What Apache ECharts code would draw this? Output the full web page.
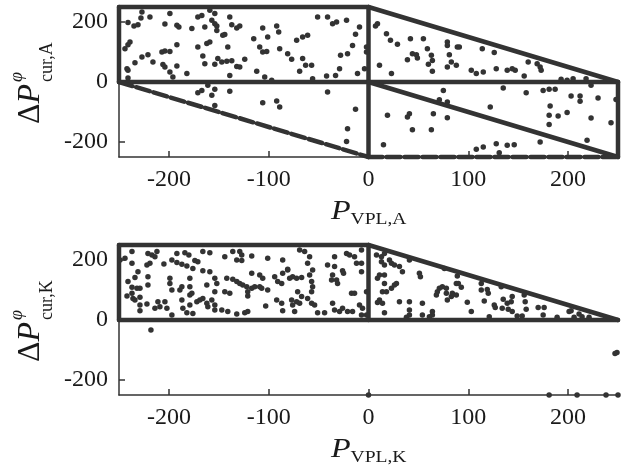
<!DOCTYPE html>
<html>
<head>
<meta charset="utf-8">
<script src="https://cdn.jsdelivr.net/npm/echarts@6/dist/echarts.min.js"></script>
<style>html,body{margin:0;padding:0;background:#fff}#c{width:630px;height:470px}</style>
</head>
<body>
<div id="c"></div>
<script>
// ---- tick values ----
const xTicks = [-200, -100, 0, 100, 200];
const yTicks = [-200, 0, 200];

// ---- dense point chains (drawn as segments) : panel A ----
const solidEdgesA = [
  [[-250, 250], [0, 250]],
  [[-250, 0], [-250, 250]],
  [[-250, 0], [250, 0]],
  [[0, -250], [0, 250]],
  [[250, -250], [250, 0]],
  [[0, 250], [250, 0]],
  [[0, 0], [250, -250]]
];
const dottedEdgesA = [
  [[-250, 0], [0, -250]],
  [[0, -250], [250, -250]]
];
// ---- dense point chains : panel K ----
const solidEdgesK = [
  [[-250, 250], [0, 250]],
  [[-250, 0], [-250, 250]],
  [[-250, 0], [250, 0]],
  [[0, 0], [0, 250]],
  [[0, 250], [250, 0]]
];

// ---- scattered points : panel A ----
const pointsA = [
  [-227,233],[-219,217],[-228,213],[-231,191],[-235,187],[-241,198],[-204,193],[-199,228],[-192,189],[-190,183],
  [-177,178],[-171,217],[-167,222],[-159,239],[-154,228],[-157,206],[-154,194],[-152,187],[-139,217],[-137,191],
  [-146,156],[-144,158],[-152,172],[-164,183],[-132,180],[-129,187],[-115,144],[-106,180],[-101,150],[-92,187],
  [-90,167],[-109,117],[-106,100],[-102,102],[-89,111],[-81,94],[-239,133],[-241,124],[-244,111],[-192,124],
  [-199,102],[-204,103],[-207,100],[-227,83],[-221,91],[-216,67],[-234,64],[-206,58],[-204,50],[-192,53],
  [-199,33],[-196,17],[-182,28],[-171,117],[-162,128],[-159,133],[-166,87],[-164,61],[-154,59],[-151,78],
  [-147,67],[-142,69],[-137,71],[-141,117],[-132,52],[-129,50],[-124,76],[-139,22],[-112,36],[-104,17],
  [-241,39],[-242,44],[-97,6],[-241,13],
  [-171,-36],[-167,-28],[-161,-11],[-154,-24],[-157,-44],[-139,-31],[-154,-78],[-106,-69],[-92,-63],[-89,-83],
  [-51,217],[-41,217],[-36,194],[-32,200],[-22,206],[-9,183],[-13,159],[-16,122],[-21,94],[-28,89],
  [-2,117],[-2,100],[-4,44],[-11,28],[-29,44],[-33,22],[-42,20],[-56,11],[-69,36],[-63,56],
  [-57,56],[-66,78],[-77,76],[-72,139],[-66,150],[-61,156],
  [-41,-33],[-13,-91],[-21,-156],[-22,-198],
  [9,194],[7,187],[18,161],[22,139],[29,126],[42,144],[55,144],[59,111],[63,89],[64,72],
  [60,59],[64,36],[79,133],[79,122],[81,91],[83,67],[79,50],[89,117],[44,94],[48,91],
  [49,80],[39,74],[11,56],[23,28],
  [19,-111],[41,-106],[39,-117],[44,-159],[63,-159],[65,-106],[79,-119],[15,-209],[75,-28],[71,-59],[79,-67],
  [91,117],[88,56],[114,111],[126,98],[103,39],[108,28],[115,33],[128,44],[139,39],[144,44],
  [147,39],[156,20],[160,67],[169,61],[172,50],[173,39],[193,9],[199,6],[205,11],[218,11],
  [135,-20],[158,-36],[175,-28],[181,-24],[187,-24],[203,-47],[212,-47],[212,-64],[230,-53],[248,-58],
  [223,-11],[182,-80],[181,-111],[181,-142],[190,-113],[199,-102],[223,-120],[243,-136],[219,-194],[172,-200],
  [122,-83],[128,-206],[139,-211],[146,-209],[115,-217],[108,-224],[131,-236]
];

// ---- scattered points : panel K ----
const pointsK = [
  [-237,228],[-221,222],[-217,217],[-214,211],[-212,228],[-219,189],[-222,183],[-205,187],[-192,222],[-184,224],
  [-180,217],[-166,228],[-159,224],[-174,198],[-171,194],[-197,200],[-192,192],[-187,186],[-182,180],[-176,172],
  [-166,164],[-159,161],[-237,189],[-231,161],[-234,142],[-241,128],[-237,109],[-232,106],[-229,106],[-242,80],
  [-237,89],[-236,72],[-234,67],[-229,76],[-229,50],[-229,31],[-222,53],[-221,144],[-221,117],[-214,39],
  [-211,61],[-209,44],[-204,61],[-202,39],[-197,17],[-199,139],[-199,122],[-197,100],[-187,111],[-189,100],
  [-179,139],[-179,111],[-179,83],[-177,89],[-187,67],[-179,50],[-176,22],[-182,24],[-186,39],[-172,61],
  [-169,67],[-166,72],[-162,56],[-157,67],[-154,50],[-161,44],[-154,33],[-147,33],[-141,28],[-132,20],
  [-124,24],[-121,28],[-154,139],[-152,122],[-154,94],[-144,94],[-139,89],[-162,117],[-142,139],[-136,136],
  [-132,128],[-129,122],[-126,117],[-122,111],[-117,106],[-114,111],[-121,94],[-121,80],[-117,156],[-109,150],
  [-106,139],[-109,111],[-107,106],[-101,100],[-94,144],[-91,128],[-86,156],[-87,122],[-92,67],[-87,56],
  [-86,31],[-103,47],[-136,228],[-129,228],[-127,217],[-132,200],[-127,198],[-144,211],[-117,213],[-101,206],
  [-86,200],[-81,167],[-244,206],[-249,200],
  [-69,233],[-64,228],[-59,211],[-61,189],[-56,167],[-41,183],[-34,211],[-34,178],[-22,222],[-19,217],
  [-14,211],[-12,189],[-7,233],[-7,189],[-7,161],[-26,164],[-25,156],[-36,150],[-37,133],[-32,133],
  [-31,122],[-76,144],[-79,139],[-72,139],[-67,142],[-59,150],[-81,169],[-57,128],[-56,111],[-57,94],
  [-61,72],[-57,56],[-54,50],[-71,94],[-67,78],[-77,67],[-72,61],[-69,56],[-76,50],[-74,28],
  [-51,24],[-44,24],[-36,56],[-34,33],[-29,28],[-26,39],[-21,28],[-16,28],[-17,89],[-14,89],
  [-9,50],[-6,39],[-7,17],[-2,94],[-2,17],
  [8,217],[13,211],[16,222],[13,194],[16,183],[21,200],[23,189],[26,183],[31,178],[41,200],
  [51,156],[52,144],[34,161],[9,139],[11,150],[16,150],[16,122],[26,117],[28,122],[23,106],
  [14,94],[18,94],[11,67],[9,58],[14,56],[16,24],[31,61],[41,61],[41,33],[54,56],
  [64,28],[64,17],[54,17],[68,83],[69,94],[71,106],[74,111],[78,106],[78,89],[79,67],
  [83,78],[84,89],[88,122],[76,172],[41,17],[38,9],[61,11],
  [89,147],[90,122],[93,109],[88,83],[99,59],[103,28],[113,122],[113,100],[119,102],[120,89],
  [116,63],[121,11],[126,50],[127,42],[133,111],[135,69],[134,39],[139,56],[140,36],[144,78],
  [143,61],[144,28],[149,13],[154,13],[156,83],[157,61],[158,36],[170,42],[176,42],[175,17],
  [189,9],[201,28],[203,31],[211,20],[214,11],[221,9],[206,9],
  [-218,-33],[249,-108],[247,-112],
  [0,-250],[181,-250],[209,-250],[238,-250],[250,-250]
];

const INK = '#333333';
const TXT = '#1a1a1a';
const FONT = '"Liberation Serif","Times New Roman",serif';

function segSeries(segs, idx, dash) {
  return segs.map(s => ({
    type: 'line', xAxisIndex: idx, yAxisIndex: idx, data: s,
    symbol: 'none', clip: false, silent: true, z: 3,
    lineStyle: { color: INK, width: 4.5, type: dash || 'solid', cap: 'round' }
  }));
}
function ptSeries(pts, idx) {
  return {
    type: 'scatter', xAxisIndex: idx, yAxisIndex: idx, data: pts,
    symbolSize: 5.5, clip: false, silent: true, z: 4,
    itemStyle: { color: INK, opacity: 1 }
  };
}
function xAx(idx) {
  return {
    gridIndex: idx, type: 'value', min: -250, max: 250,
    axisLine: { onZero: false, lineStyle: { color: '#333', width: 1.5 } },
    axisTick: { inside: true, length: 6, customValues: xTicks, lineStyle: { color: '#333', width: 1.5 } },
    axisLabel: { customValues: xTicks, fontSize: 24, fontFamily: FONT, color: TXT, margin: 11 },
    splitLine: { show: false }
  };
}
function yAx(idx) {
  return {
    gridIndex: idx, type: 'value', min: -250, max: 250,
    axisLine: { show: true, onZero: false, lineStyle: { color: '#333', width: 1.5 } },
    axisTick: { show: true, inside: true, length: 6, customValues: yTicks, lineStyle: { color: '#333', width: 1.5 } },
    axisLabel: { customValues: yTicks, fontSize: 24, fontFamily: FONT, color: TXT, margin: 11 },
    splitLine: { show: false }
  };
}
function yTitle(cy, sub) {
  return {
    type: 'group', x: 31, y: cy, rotation: Math.PI / 2,
    children: [
      { type: 'text', x: -42, y: 0, style: {
          text: '{d|Δ}{p|P}', align: 'left', verticalAlign: 'middle',
          rich: {
            d: { fontSize: 32, fontFamily: FONT, fill: TXT },
            p: { fontSize: 32, fontStyle: 'italic', fontFamily: FONT, fill: TXT }
          }
      } },
      { type: 'text', x: 0, y: 1, style: {
          text: '{s|φ}\n{b|' + sub + '}', align: 'left', verticalAlign: 'middle',
          rich: {
            s: { fontSize: 18, fontStyle: 'italic', fontFamily: FONT, fill: TXT, lineHeight: 30 },
            b: { fontSize: 18, fontFamily: FONT, fill: TXT, lineHeight: 30 }
          }
      } }
    ]
  };
}
function xTitle(cy, sub) {
  return {
    type: 'group', x: 331, y: cy, scaleX: 1.15,
    children: [
      { type: 'text', x: 0, y: 0, style: { text: 'P', fontSize: 28, fontStyle: 'italic', fontFamily: FONT, fill: TXT, align: 'left', verticalAlign: 'middle' } },
      { type: 'text', x: 17, y: 8, style: { text: sub, fontSize: 17, fontFamily: FONT, fill: TXT, align: 'left', verticalAlign: 'middle' } }
    ]
  };
}

const chart = echarts.init(document.getElementById('c'), null, { renderer: 'canvas' });
chart.setOption({
  animation: false,
  backgroundColor: '#fff',
  grid: [
    { left: 119, right: 12, top: 7, height: 150 },
    { left: 119, right: 12, top: 245, height: 150 }
  ],
  xAxis: [xAx(0), xAx(1)],
  yAxis: [yAx(0), yAx(1)],
  graphic: [
    yTitle(82, 'cur,A'), yTitle(320, 'cur,K'),
    xTitle(212, 'VPL,A'), xTitle(450, 'VPL,K')
  ],
  series: [].concat(
    segSeries(solidEdgesA, 0),
    segSeries(dottedEdgesA, 0, [14, 4]),
    segSeries(solidEdgesK, 1),
    [ptSeries(pointsA, 0), ptSeries(pointsK, 1)]
  )
});
</script>
</body>
</html>
